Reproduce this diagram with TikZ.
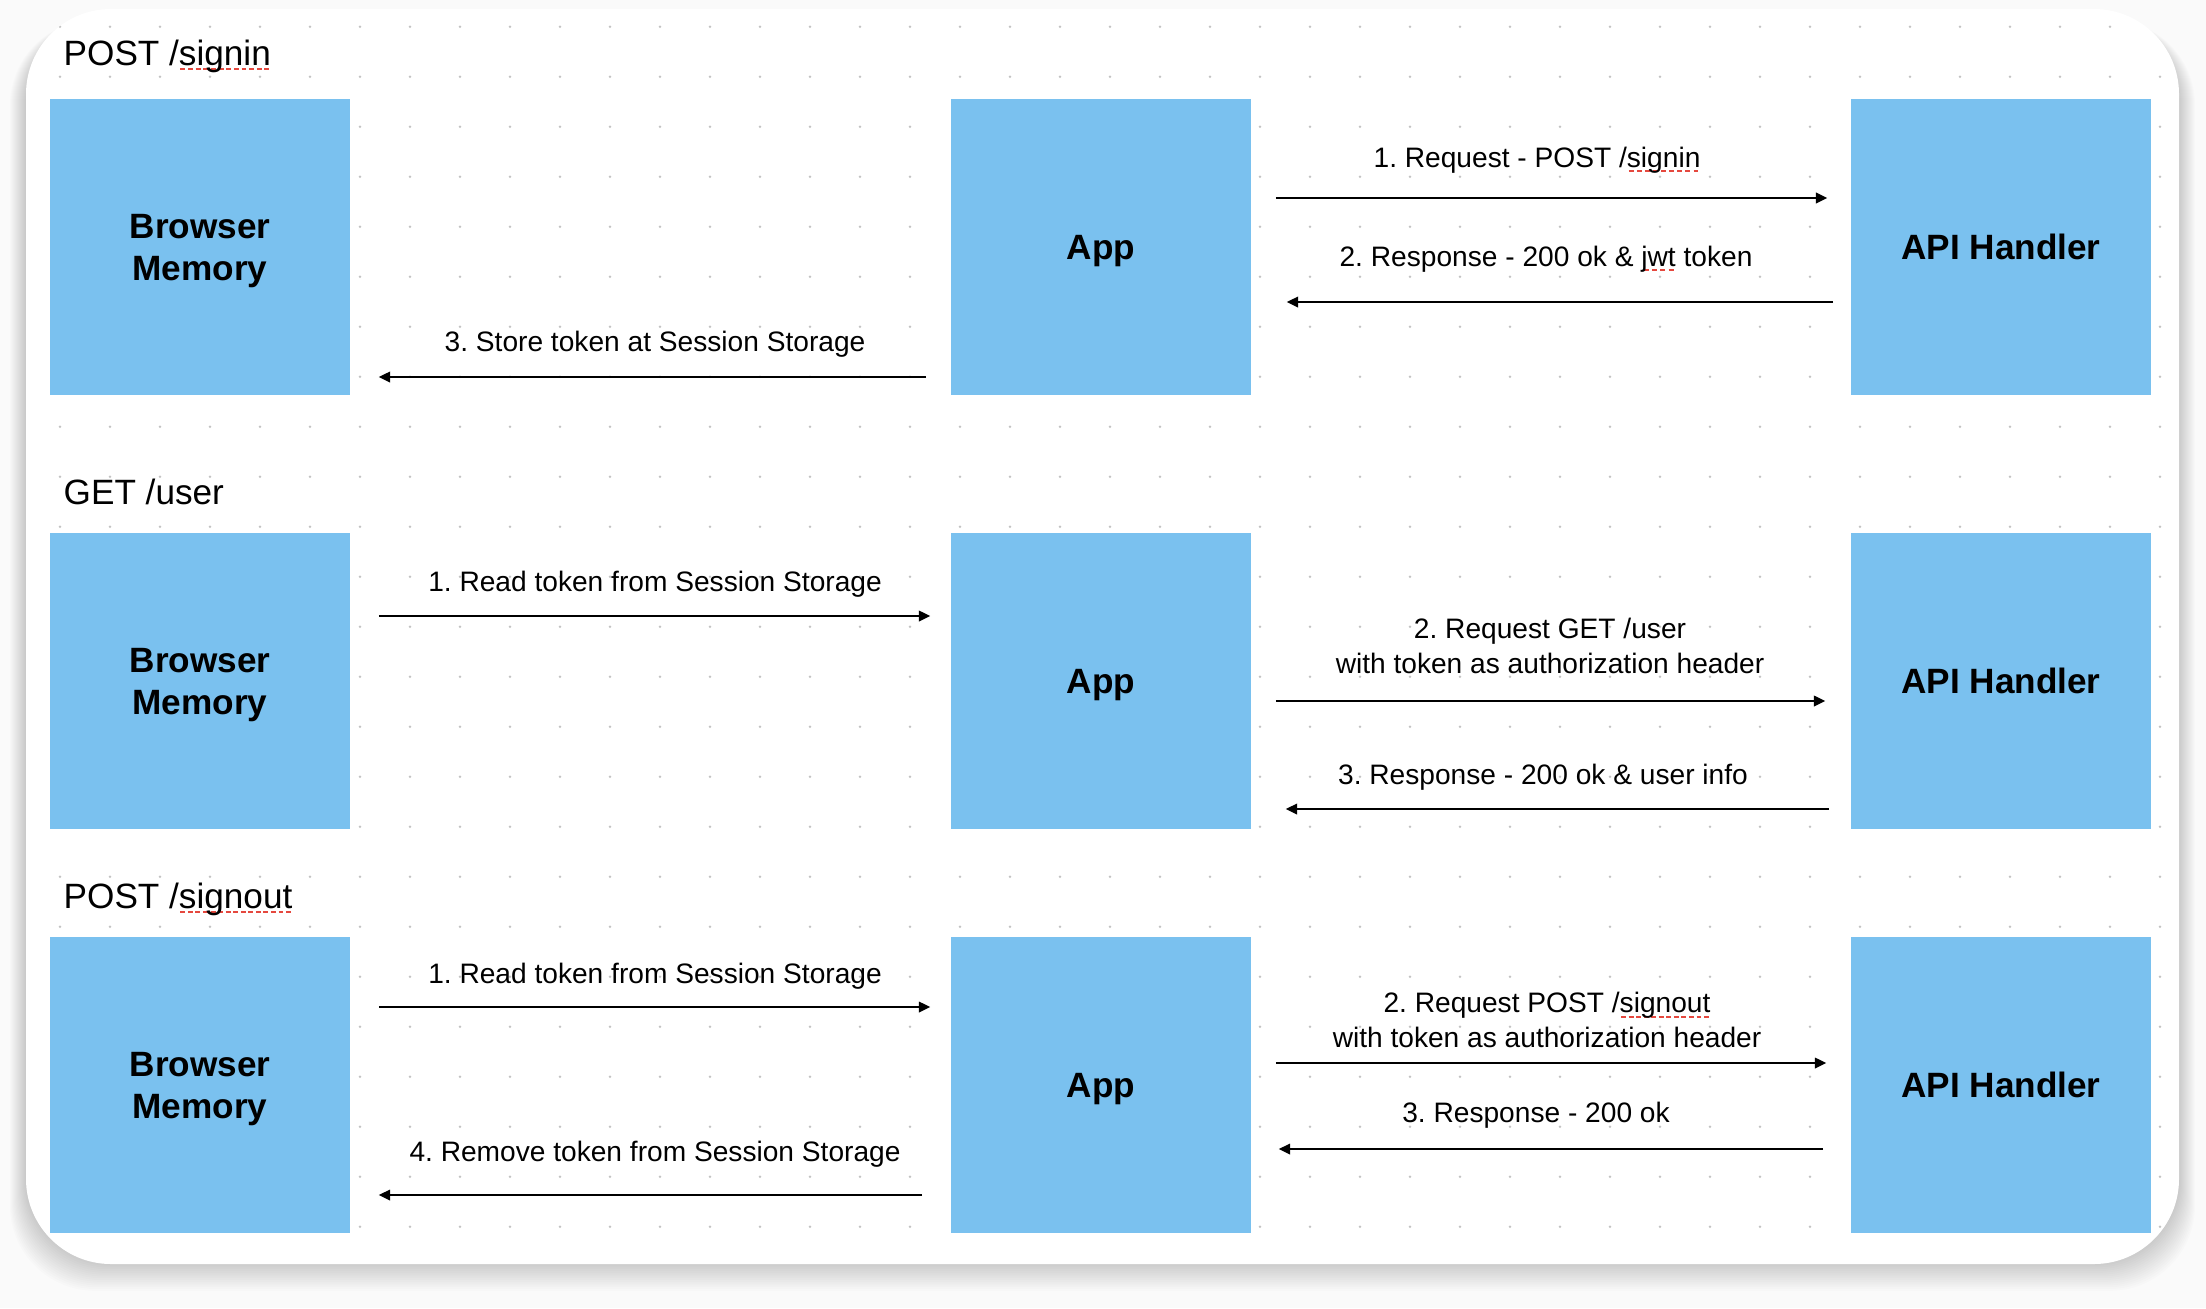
\documentclass[tikz,border=0pt]{standalone}
\usepackage{fontspec}
\setmainfont{Liberation Sans}
\usetikzlibrary{arrows.meta}
\usetikzlibrary{calc}
\definecolor{boxblue}{RGB}{122,193,239}
\definecolor{dotgray}{RGB}{195,195,195}
\definecolor{spellred}{RGB}{229,72,62}
\definecolor{pagegray}{RGB}{250,250,250}
\frenchspacing
\newsavebox{\spellbox}
\newcommand{\spell}[1] % word with red spell-check dashes under it
{%
	\sbox{\spellbox}{#1}%
	% dashes
	\rlap{\raisebox{-1.4pt}{\color{spellred}\hbox to \wd\spellbox{\xleaders\hbox{\kern0.35pt\rule{1.4pt}{0.55pt}\kern0.35pt}\hfil}}}%
	% word
	\usebox{\spellbox}%
}

\begin{document}
\begin{tikzpicture}[x=0.01cm, y=-0.01cm,
	block/.style={fill=boxblue, minimum width=3cm, minimum height=2.96cm, inner sep=0pt, text depth=0pt, align=center, font=\fontsize{10}{12}\selectfont\bfseries},
	heading/.style={anchor=base west, inner sep=0pt, font=\fontsize{10}{12}\selectfont},
	msgtext/.style={inner sep=0pt, align=center, font=\fontsize{8}{9.8}\selectfont},
	flow/.style={-{Triangle[length=3.2pt,width=3pt]}, line width=0.5pt}]
	% 2206 x 1308 px, 1px = 0.1mm
	\useasboundingbox (0,0) rectangle (2206,1308);
	\fill[pagegray] (0,0) rectangle (2206,1308);
	% card shadow
	\foreach \i in {1,...,16}
		\fill[black, opacity=0.013, rounded corners=0.85cm] (26-\i,20) rectangle (2179+\i,1262+1.8*\i);
	% card
	\fill[white, rounded corners=0.85cm] (26,9) rectangle (2179,1264);
	% dot grid
	\begin{scope}
		\clip[rounded corners=0.85cm] (26,9) rectangle (2179,1264);
		\foreach \x in {0,...,42}
			\foreach \y in {0,...,24}
				\fill[dotgray] (60+50*\x,26.7+50*\y) circle[radius=0.4pt];
	\end{scope}
	% POST /signin
	\node[heading] (t1) at (63,65) {POST /\spell{signin}};
	\node[block] (bm1) at (200,247) {Browser\\Memory};
	\node[block] (app1) at (1101,247) {App};
	\node[block] (api1) at (2001,247) {API Handler};
	\node[msgtext, anchor=base] (m11) at (1537,167) {1. Request - POST /\spell{signin}};
	\node[msgtext, anchor=base] (m12) at (1546,266) {2. Response - 200 ok \& \spell{jwt} token};
	\node[msgtext, anchor=base] (m13) at (655,351) {3. Store token at Session Storage};
	\draw[flow] ($(app1.east)+(24,-49)$) -- ($(api1.west)+(-23,-49)$);
	\draw[flow] ($(api1.west)+(-17,55)$) -- ($(app1.east)+(35,55)$);
	\draw[flow] ($(app1.west)+(-24,130)$) -- ($(bm1.east)+(28,130)$);
	% GET /user
	\node[heading] (t2) at (63,504) {GET /user};
	\node[block] (bm2) at (200,681) {Browser\\Memory};
	\node[block] (app2) at (1101,681) {App};
	\node[block] (api2) at (2001,681) {API Handler};
	\node[msgtext, anchor=base] (m21) at (655,591) {1. Read token from Session Storage};
	\node[msgtext] (m22) at (1550,646) {2. Request GET /user\\with token as authorization header};
	\node[msgtext, anchor=base] (m23) at (1543,784) {3. Response - 200 ok \& user info};
	\draw[flow] ($(bm2.east)+(28,-65)$) -- ($(app2.west)+(-20,-65)$);
	\draw[flow] ($(app2.east)+(24,20)$) -- ($(api2.west)+(-25,20)$);
	\draw[flow] ($(api2.west)+(-21,128)$) -- ($(app2.east)+(34,128)$);
	% POST /signout
	\node[heading] (t3) at (63,908) {POST /\spell{signout}};
	\node[block] (bm3) at (200,1085) {Browser\\Memory};
	\node[block] (app3) at (1101,1085) {App};
	\node[block] (api3) at (2001,1085) {API Handler};
	\node[msgtext, anchor=base] (m31) at (655,983) {1. Read token from Session Storage};
	\node[msgtext] (m32) at (1547,1020) {2. Request POST /\spell{signout}\\with token as authorization header};
	\node[msgtext, anchor=base] (m33) at (1536,1122) {3. Response - 200 ok};
	\node[msgtext, anchor=base] (m34) at (655,1161) {4. Remove token from Session Storage};
	\draw[flow] ($(bm3.east)+(28,-78)$) -- ($(app3.west)+(-20,-78)$);
	\draw[flow] ($(app3.east)+(24,-22)$) -- ($(api3.west)+(-24,-22)$);
	\draw[flow] ($(api3.west)+(-27,64)$) -- ($(app3.east)+(27,64)$);
	\draw[flow] ($(app3.west)+(-28,110)$) -- ($(bm3.east)+(28,110)$);
\end{tikzpicture}
\end{document}
